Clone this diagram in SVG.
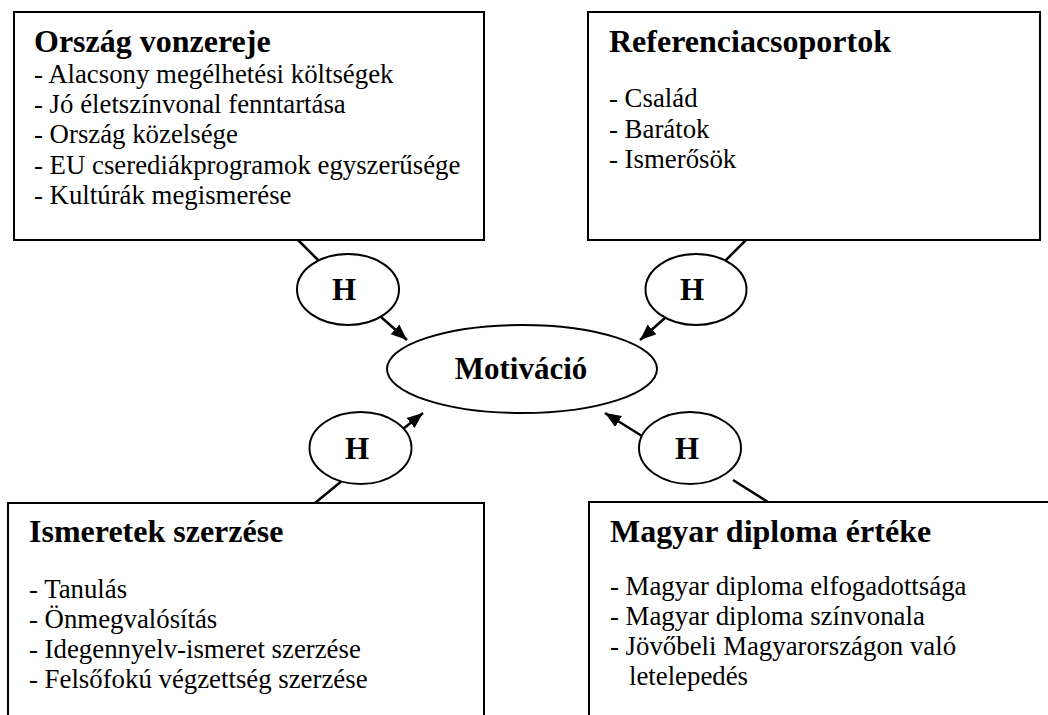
<svg xmlns="http://www.w3.org/2000/svg" width="1048" height="715" viewBox="0 0 1048 715">
<style>
.box{fill:#fff;stroke:#000;stroke-width:2}
.ell{fill:#fff;stroke:#000;stroke-width:2}
text{font-family:'Liberation Serif','Tinos','DejaVu Serif','Noto Serif',serif;fill:#000}
.t{font-size:32px;font-weight:bold}
.m{font-size:31px;font-weight:bold}
.i{font-size:26.8px}
.c{stroke:#000;stroke-width:2.5;fill:none}
</style>
<defs>
<marker id="ah" markerUnits="userSpaceOnUse" markerWidth="18" markerHeight="15" refX="16" refY="7.5" orient="auto">
<path d="M0,1 L16,7.5 L0,14 z" fill="#000"/>
</marker>
</defs>
<rect width="1048" height="715" fill="#fff"/>
<g id="connectors">
<line class="c" x1="298" y1="240" x2="320" y2="262"/>
<line class="c" x1="381" y1="317" x2="407" y2="340" marker-end="url(#ah)"/>
<line class="c" x1="746" y1="240" x2="724" y2="262"/>
<line class="c" x1="665" y1="318" x2="640" y2="340" marker-end="url(#ah)"/>
<line class="c" x1="315" y1="503" x2="343" y2="480"/>
<line class="c" x1="403" y1="429" x2="423" y2="413" marker-end="url(#ah)"/>
<line class="c" x1="768" y1="502" x2="733" y2="480"/>
<line class="c" x1="642" y1="436" x2="605" y2="413" marker-end="url(#ah)"/>
</g>
<g id="orszag">
<rect class="box" x="14" y="12" width="470" height="228"/>
<text class="t" x="34" y="52">Ország vonzereje</text>
<text class="i" x="34" y="83">- Alacsony megélhetési költségek</text>
<text class="i" x="34" y="113">- Jó életszínvonal fenntartása</text>
<text class="i" x="34" y="143">- Ország közelsége</text>
<text class="i" x="34" y="174">- EU cserediákprogramok egyszerűsége</text>
<text class="i" x="34" y="204">- Kultúrák megismerése</text>
</g>
<g id="referencia">
<rect class="box" x="588" y="12" width="452" height="228"/>
<text class="t" x="609" y="52">Referenciacsoportok</text>
<text class="i" x="609" y="107">- Család</text>
<text class="i" x="609" y="138">- Barátok</text>
<text class="i" x="609" y="168">- Ismerősök</text>
</g>
<g id="ismeretek">
<rect class="box" x="8" y="503" width="476" height="230"/>
<text class="t" x="29" y="542">Ismeretek szerzése</text>
<text class="i" x="29" y="598">- Tanulás</text>
<text class="i" x="29" y="628">- Önmegvalósítás</text>
<text class="i" x="29" y="658">- Idegennyelv-ismeret szerzése</text>
<text class="i" x="29" y="688">- Felsőfokú végzettség szerzése</text>
</g>
<g id="magyar">
<rect class="box" x="589" y="502" width="470" height="230"/>
<text class="t" x="610" y="542">Magyar diploma értéke</text>
<text class="i" x="610" y="595">- Magyar diploma elfogadottsága</text>
<text class="i" x="610" y="625">- Magyar diploma színvonala</text>
<text class="i" x="610" y="655">- Jövőbeli Magyarországon való</text>
<text class="i" x="629" y="685">letelepedés</text>
</g>
<g id="motivacio">
<ellipse class="ell" cx="522" cy="369" rx="135" ry="44"/>
<text class="m" x="521" y="379" text-anchor="middle">Motiváció</text>
</g>
<g id="h1">
<ellipse class="ell" cx="348" cy="289.5" rx="51" ry="35.5"/>
<text class="m" x="344" y="300" text-anchor="middle">H</text>
</g>
<g id="h2">
<ellipse class="ell" cx="696" cy="289.5" rx="50.5" ry="35.5"/>
<text class="m" x="692" y="300" text-anchor="middle">H</text>
</g>
<g id="h3">
<ellipse class="ell" cx="360.5" cy="448" rx="51" ry="36"/>
<text class="m" x="357" y="459" text-anchor="middle">H</text>
</g>
<g id="h4">
<ellipse class="ell" cx="690" cy="448" rx="51" ry="36"/>
<text class="m" x="687" y="459" text-anchor="middle">H</text>
</g>
</svg>
